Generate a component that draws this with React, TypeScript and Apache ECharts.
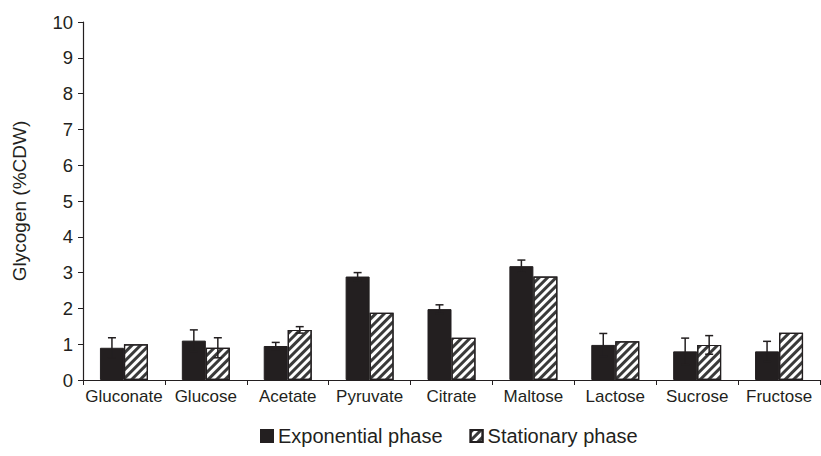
import React, { useEffect, useRef } from "react";
import * as echarts from "echarts";

const categories = ["Gluconate", "Glucose", "Acetate", "Pyruvate", "Citrate", "Maltose", "Lactose", "Sucrose", "Fructose"];
const exponential = [0.9, 1.1, 0.95, 2.89, 1.98, 3.18, 0.98, 0.8, 0.8];
const exponentialErr = [0.28, 0.3, 0.1, 0.11, 0.12, 0.17, 0.32, 0.37, 0.28];
const stationary = [1.0, 0.9, 1.4, 1.88, 1.18, 2.89, 1.08, 0.98, 1.32];
const stationaryErr = [0, 0.28, 0.09, 0, 0, 0, 0, 0.26, 0];

const INK = "#231f20";
const BAR_W = 24;

function errData(vals: number[], errs: number[]) {
  return vals
    .map((v, i) => [i, v - errs[i], v + errs[i], errs[i]])
    .filter((d) => d[3] > 0);
}

function makeErr(offset: number) {
  return (params: any, api: any) => {
    const lo = api.coord([api.value(0), api.value(1)]);
    const hi = api.coord([api.value(0), api.value(2)]);
    const x = lo[0] + offset;
    const cap = 4;
    const style = { stroke: INK, lineWidth: 1.5 };
    return {
      type: "group",
      children: [
        { type: "line", shape: { x1: x, y1: lo[1], x2: x, y2: hi[1] }, style },
        { type: "line", shape: { x1: x - cap, y1: hi[1], x2: x + cap, y2: hi[1] }, style },
        { type: "line", shape: { x1: x - cap, y1: lo[1], x2: x + cap, y2: lo[1] }, style },
      ],
    };
  };
}

export default function App() {
  const ref = useRef<HTMLDivElement>(null);
  useEffect(() => {
    const chart = echarts.init(ref.current!, null, { renderer: "svg" });
    const font = "Liberation Sans, Arial, sans-serif";
    chart.setOption({
      animation: false,
      textStyle: { fontFamily: font, color: INK },
      grid: { left: 83, right: 1, top: 22, bottom: 76 },
      legend: {
        bottom: 5,
        left: 255,
        itemWidth: 12,
        itemHeight: 12,
        itemGap: 27,
        textStyle: { fontSize: 20, color: INK, fontFamily: font },
        data: [
          { name: "Exponential phase", icon: "rect" },
          { name: "Stationary phase", icon: "rect" },
        ],
      },
      xAxis: {
        type: "category",
        data: categories,
        axisLine: { lineStyle: { color: INK, width: 1.2 } },
        axisTick: { show: true, length: 5, alignWithLabel: false, lineStyle: { color: INK } },
        axisLabel: { color: INK, fontSize: 17, margin: 8, interval: 0, fontFamily: font },
        splitLine: { show: false },
      },
      yAxis: {
        type: "value",
        min: 0,
        max: 10,
        interval: 1,
        name: "Glycogen (%CDW)",
        nameLocation: "middle",
        nameGap: 54,
        nameTextStyle: { fontSize: 19, color: INK, fontFamily: font },
        axisLine: { show: true, lineStyle: { color: INK, width: 1.2 } },
        axisTick: { show: true, length: 5, lineStyle: { color: INK } },
        axisLabel: { color: INK, fontSize: 18.5, margin: 10, fontFamily: font },
        splitLine: { show: false },
      },
      series: [
        {
          name: "Exponential phase",
          type: "bar",
          data: exponential,
          barWidth: BAR_W,
          barGap: "0%",
          itemStyle: { color: INK, borderColor: INK, borderWidth: 1 },
        },
        {
          name: "Stationary phase",
          type: "bar",
          data: stationary,
          barWidth: BAR_W,
          barGap: "0%",
          itemStyle: {
            color: "#ffffff",
            borderColor: INK,
            borderWidth: 1.2,
            decal: {
              symbol: "rect",
              color: "#3a3a3a",
              dashArrayX: [1, 0],
              dashArrayY: [2.5, 3],
              rotation: -Math.PI / 4,
              symbolSize: 1,
            },
          },
        },
        {
          type: "custom",
          renderItem: makeErr(-BAR_W / 2),
          data: errData(exponential, exponentialErr),
          encode: { x: 0, y: [1, 2] },
          z: 10,
          silent: true,
        },
        {
          type: "custom",
          renderItem: makeErr(BAR_W / 2),
          data: errData(stationary, stationaryErr),
          encode: { x: 0, y: [1, 2] },
          z: 10,
          silent: true,
        },
      ],
    });
    return () => chart.dispose();
  }, []);
  return <div ref={ref} style={{ width: 821, height: 456, position: "absolute", left: 0, top: 0 }} />;
}
